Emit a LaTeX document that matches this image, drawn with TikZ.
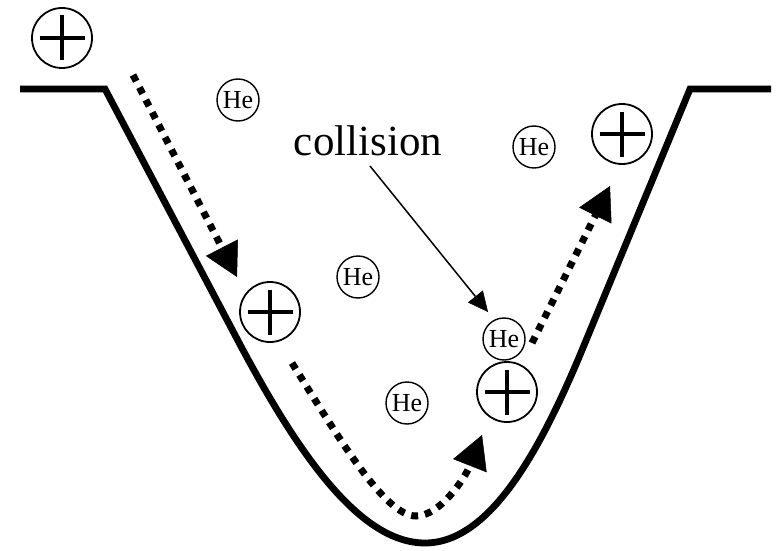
\documentclass[tikz,border=0pt]{standalone}
\usepackage{fontspec}
\setmainfont{Liberation Serif}
\usetikzlibrary{arrows.meta}
\tikzset{
  trough/.style={line width=6.8pt},
  pluscirc/.style={circle, draw, line width=1.8pt, minimum size=60pt, inner sep=0pt,
    path picture={\draw[line width=3.2pt]
      ([xshift=-22.5pt]path picture bounding box.center) -- ([xshift=22.5pt]path picture bounding box.center)
      ([yshift=-22.5pt]path picture bounding box.center) -- ([yshift=22.5pt]path picture bounding box.center);}},
  hecirc/.style={circle, draw, line width=1.4pt, minimum size=42pt, inner sep=0pt,
    font=\fontsize{26}{26}\selectfont},
  dotarrow/.style={line width=7pt, dash pattern=on 7pt off 7pt,
    -{Triangle[length=33pt,width=36pt,line width=0.5pt]}},
  thinarrow/.style={line width=1.5pt, -{Triangle[length=20pt,width=19pt,line width=0.5pt]}},
}
\begin{document}
\begin{tikzpicture}[x=1pt,y=-1pt]
\useasboundingbox (0,0) rectangle (779,551);
% trough
\draw[trough] (20,89) -- (105,89) -- (235,335)
  .. controls (298,455) and (360,543) .. (425,543)
  .. controls (490,543) and (540,450) .. (580,355)
  -- (690,89) -- (771,89);
% ions
\node[pluscirc] (p1) at (62,38) {};
\node[pluscirc] (p2) at (270,312) {};
\node[pluscirc] (p3) at (507,392) {};
\node[pluscirc] (p4) at (622,134) {};
% helium
\node[hecirc] (h1) at (238,100) {He};
\node[hecirc] (h2) at (358,277) {He};
\node[hecirc] (h3) at (407,403) {He};
\node[hecirc] (h4) at (534,147) {He};
\node[hecirc] (h5) at (504,339) {He};
% label
\node[font=\fontsize{43}{43}\selectfont, anchor=base] (lab) at (368,155) {collision};
\coordinate (cs) at (370,166);
\coordinate (ce) at (488,312);
\draw[thinarrow] (cs) -- (ce);
% dotted arrows
\coordinate (a1s) at (133,75);
\coordinate (a1e) at (237,277);
\draw[dotarrow] (a1s) -- (a1e);
\coordinate (a2s) at (292,363);
\coordinate (a2m) at (416,516);
\coordinate (a2e) at (482,435);
\draw[dotarrow] (a2s) .. controls (340,440) and (385,516) .. (a2m)
  .. controls (440,516) and (465,478) .. (a2e);
\coordinate (a3s) at (532,343);
\coordinate (a3e) at (610,186);
\draw[dotarrow] (a3s) -- (a3e);
\end{tikzpicture}
\end{document}
